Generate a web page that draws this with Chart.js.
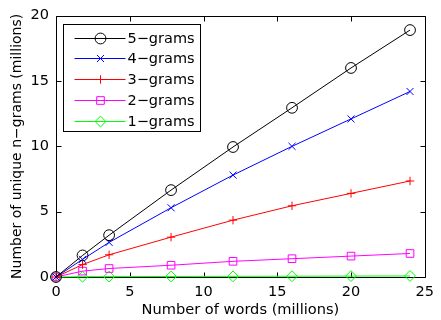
<!DOCTYPE html>
<html>
<head>
<meta charset="utf-8">
<script src="https://cdn.jsdelivr.net/npm/chart.js@4.4.1/dist/chart.umd.min.js"></script>
<style>
  html, body { margin: 0; padding: 0; background: #fff; }
  #wrap { width: 441px; height: 320px; }
</style>
</head>
<body>
<div id="wrap"><canvas id="myChart"></canvas></div>
<script>
// millions of words in the corpus (x)
const words = [0, 1.8, 3.6, 7.8, 12, 16, 20, 24];

// unique n-grams, millions (y)
const fiveGrams  = [0, 1.65, 3.2, 6.65, 9.95, 12.95, 16.0, 18.9];
const fourGrams  = [0, 1.35, 2.65, 5.3, 7.8, 10.0, 12.1, 14.2];
const threeGrams = [0, 0.95, 1.7, 3.05, 4.35, 5.45, 6.4, 7.35];
const twoGrams   = [0, 0.45, 0.65, 0.9, 1.2, 1.4, 1.6, 1.8];
const oneGrams   = [0, 0.02, 0.03, 0.04, 0.05, 0.06, 0.07, 0.08];

const seriesLabels = ['5−grams', '4−grams', '3−grams', '2−grams', '1−grams'];
const xTicks = [0, 5, 10, 15, 20, 25];
const yTicks = [0, 5, 10, 15, 20];

const FONT = "'DejaVu Sans', sans-serif";
Chart.defaults.font.family = FONT;
Chart.defaults.font.size = 14.5;
Chart.defaults.color = '#000';

const toPoints = ys => ys.map((y, i) => ({ x: words[i], y: y }));

function series(label, ys, color, style, r) {
  return {
    label: label,
    data: toPoints(ys),
    borderColor: color,
    backgroundColor: color,
    borderWidth: 1,
    pointStyle: style,
    pointRadius: r,
    pointHoverRadius: r,
    pointBorderColor: color,
    pointBackgroundColor: 'rgba(0,0,0,0)',
    pointBorderWidth: 1,
    tension: 0,
    clip: false
  };
}

// box round the axes with inward ticks (under the data)
const frame = {
  id: 'frame',
  beforeDatasetsDraw(chart) {
    const c = chart.ctx;
    const a = chart.chartArea;
    const sx = chart.scales.x, sy = chart.scales.y;
    const L = Math.round(a.left) + 0.5, R = Math.round(a.right) + 0.5;
    const T = Math.round(a.top) + 0.5, B = Math.round(a.bottom) + 0.5;
    c.save();
    c.strokeStyle = '#000';
    c.lineWidth = 1;
    c.beginPath();
    c.rect(L, T, R - L, B - T);
    xTicks.forEach(v => {
      const px = Math.round(sx.getPixelForValue(v)) + 0.5;
      c.moveTo(px, B); c.lineTo(px, B - 5);
      c.moveTo(px, T); c.lineTo(px, T + 5);
    });
    yTicks.forEach(v => {
      const py = Math.round(sy.getPixelForValue(v)) + 0.5;
      c.moveTo(L, py); c.lineTo(L + 5, py);
      c.moveTo(R, py); c.lineTo(R - 5, py);
    });
    c.stroke();
    c.restore();
  }
};

// legend inside the plot: line + marker per row
const boxLegend = {
  id: 'boxLegend',
  afterDraw(chart) {
    const c = chart.ctx;
    const a = chart.chartArea;
    const left = Math.round(a.left) + 7.5, top = Math.round(a.top) + 8.5;
    const w = 137, h = 107;
    c.save();
    c.fillStyle = '#fff';
    c.fillRect(left, top, w, h);
    c.strokeStyle = '#000';
    c.lineWidth = 1;
    c.strokeRect(left, top, w, h);
    chart.data.datasets.forEach((ds, i) => {
      const y = Math.round(top + 13 + i * 20.8) + 0.5;
      c.strokeStyle = ds.borderColor;
      c.beginPath();
      c.moveTo(left + 11, y);
      c.lineTo(left + 62, y);
      c.stroke();
      c.fillStyle = 'rgba(0,0,0,0)';
      Chart.helpers.drawPoint(c, {
        pointStyle: ds.pointStyle,
        radius: ds.pointRadius,
        borderWidth: 1,
        rotation: 0
      }, left + 37, y);
      c.fillStyle = '#000';
      c.font = '14.5px ' + FONT;
      c.textBaseline = 'middle';
      c.textAlign = 'left';
      c.fillText(ds.label, left + 64, y + 1);
    });
    c.restore();
  }
};

new Chart(document.getElementById('myChart'), {
  type: 'line',
  data: {
    datasets: [
      series(seriesLabels[0], fiveGrams, '#000000', 'circle', 5.4),
      series(seriesLabels[1], fourGrams, '#0000ff', 'crossRot', 5),
      series(seriesLabels[2], threeGrams, '#ff0000', 'cross', 4.2),
      series(seriesLabels[3], twoGrams, '#ff00ff', 'rect', 5.4),
      series(seriesLabels[4], oneGrams, '#00ff00', 'rectRot', 5.4)
    ]
  },
  options: {
    responsive: true,
    maintainAspectRatio: false,
    animation: false,
    layout: { padding: { top: 13, right: 11, left: 0, bottom: 0 } },
    plugins: {
      legend: { display: false },
      tooltip: { enabled: false }
    },
    scales: {
      x: {
        type: 'linear',
        min: 0,
        max: 25,
        afterBuildTicks: s => { s.ticks = xTicks.map(v => ({ value: v })); },
        afterFit: s => { s.height = 43; },
        grid: { display: false, drawTicks: false, tickLength: 0 },
        border: { display: false },
        ticks: { padding: 7, maxRotation: 0 },
        title: {
          display: true,
          text: 'Number of words (millions)',
          font: { size: 14.6 },
          padding: { top: 0, bottom: 1 }
        }
      },
      y: {
        type: 'linear',
        min: 0,
        max: 20,
        afterBuildTicks: s => { s.ticks = yTicks.map(v => ({ value: v })); },
        afterFit: s => { s.width = 56; },
        grid: { display: false, drawTicks: false, tickLength: 0 },
        border: { display: false },
        ticks: { padding: 7 },
        title: {
          display: true,
          text: 'Number of unique n−grams (millions)',
          font: { size: 14 },
          padding: { top: 9, bottom: 0 }
        }
      }
    }
  },
  plugins: [frame, boxLegend]
});
</script>
</body>
</html>
